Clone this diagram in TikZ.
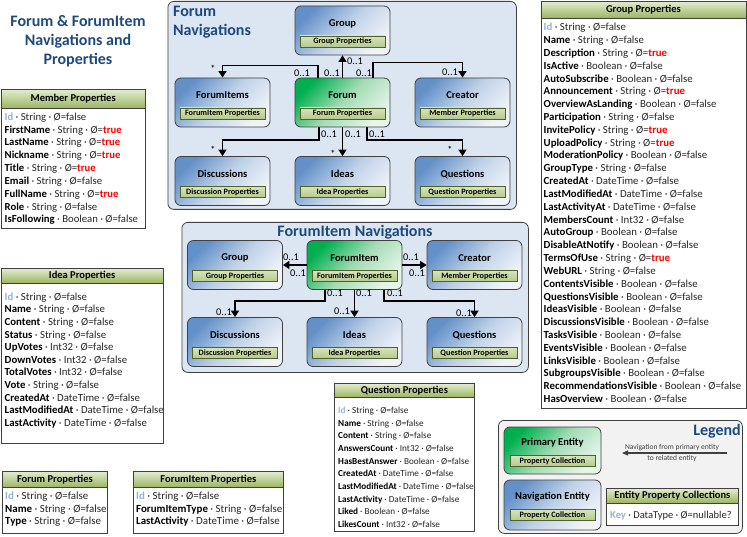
\documentclass[tikz,border=0pt]{standalone}
\usepackage{fontspec}
\setmainfont{Carlito}
\usetikzlibrary{arrows.meta}
\definecolor{ttl}{HTML}{1F497D}
\definecolor{idc}{HTML}{95B3D7}
\definecolor{cont}{HTML}{DCE6F2}
\definecolor{brd}{HTML}{404040}
\definecolor{hdt}{HTML}{E3EBD0}
\definecolor{hdb}{HTML}{9AB560}
\definecolor{sbt}{HTML}{D7E4BD}
\definecolor{sbb}{HTML}{B3C98A}
\definecolor{sbd}{HTML}{4F6228}
\definecolor{nvt}{HTML}{6390C8}
\definecolor{nvm}{HTML}{C0D2E8}
\definecolor{nvb}{HTML}{F0F4FA}
\definecolor{pmt}{HTML}{00B050}
\definecolor{pmm}{HTML}{A5DCB5}
\definecolor{pmb}{HTML}{E6F5EA}
\definecolor{txt}{HTML}{262626}
\definecolor{legbg}{HTML}{F2F2F2}
\definecolor{legtx}{HTML}{404040}
\newcommand\truev{\textcolor{red}{\textbf{true}}}
\newcommand\prw[3]{\textcolor{black}{\textbf{#1}} · #2 · Ø=#3}
\newcommand\idrow{\textcolor{idc}{\textbf{Id}} · String · Ø=false}
\tikzset{
  row/.style={anchor=base west, inner sep=0, font=\fontsize{10.6}{12}\selectfont, text=txt},
  hdr/.style={draw=brd, line width=0.8pt, top color=hdt, bottom color=hdb, anchor=north west, inner sep=0},
  body/.style={draw=brd, line width=0.8pt, fill=white, anchor=north west, inner sep=0},
  hdrtxt/.style={font=\bfseries\fontsize{10.5}{12}\selectfont, inner sep=0},
  container/.style={draw=brd, line width=0.8pt, fill=cont, rounded corners=6pt, anchor=north west, inner sep=0},
  navent/.style={draw=brd, line width=0.8pt, rounded corners=6pt, minimum width=95pt, minimum height=49pt, inner sep=0,
    top color=nvt, bottom color=nvb, middle color=nvm, shading angle=45},
  priment/.style={draw=brd, line width=0.8pt, rounded corners=6pt, minimum width=95pt, minimum height=49pt, inner sep=0,
    top color=pmt, bottom color=pmb, middle color=pmm, shading angle=45},
  entlbl/.style={font=\bfseries\fontsize{10.5}{12}\selectfont, inner sep=0},
  subbar/.style={draw=sbd, line width=0.6pt, top color=sbt, bottom color=sbb, minimum width=85pt, minimum height=11pt,
    inner sep=0, font=\bfseries\fontsize{8.2}{9}\selectfont},
  arr/.style={line width=1.8pt, -{Triangle[length=6.5pt,width=8pt]}},
  lbl/.style={anchor=base, inner sep=0, font=\fontsize{10.3}{12}\selectfont},
  bigtitle/.style={font=\bfseries\fontsize{16}{19}\selectfont, text=ttl, inner sep=0},
}
\newcommand\entity[6]{%
  \node[#2] (#1) at (#3,#4) {};
  \node[entlbl] (#1t) at ([yshift=7pt]#1.center) {#5};
  \node[subbar] (#1s) at ([yshift=-11pt]#1.center) {#6};}
% name, x1, ytop, width, hdrheight, bodyheight, title
\newcommand\propbox[7]{%
  \node[hdr, minimum width=#4pt, minimum height=#5pt] (#1h) at (#2,#3) {};
  \node[body, minimum width=#4pt, minimum height=#6pt] (#1b) at (#2,#3+#5) {};
  \node[hdrtxt] (#1ht) at (#1h.center) {#7};}
% name, x, baseline0, spacing, fontsize, list
\newcommand\proprows[6]{%
  \foreach \r [count=\i from 0] in {#6} {\node[row, font=\fontsize{#5}{12}\selectfont] (#1r\i) at (#2,#3+\i*#4) {\r};}}
\begin{document}
\begin{tikzpicture}[x=1pt,y=-1pt]
\useasboundingbox (0,0) rectangle (747,537);
% title
\node[bigtitle, align=center] (title) at (78,41) {Forum \& ForumItem\\Navigations and\\Properties};
% ---------- Forum navigations ----------
\node[container, minimum width=348.5pt, minimum height=208pt] (fnav) at (167.5,1) {};
\node[bigtitle, align=left, anchor=west] (fnavt) at (173,22) {Forum\\Navigations};
\entity{grp}{navent}{342.5}{30.5}{Group}{Group Properties}
\entity{fitems}{navent}{222.5}{102.5}{ForumItems}{ForumItem Properties}
\entity{forum}{priment}{342.5}{102.5}{Forum}{Forum Properties}
\entity{creator}{navent}{462.5}{102.5}{Creator}{Member Properties}
\entity{disc}{navent}{222.5}{181}{Discussions}{Discussion Properties}
\entity{ideas}{navent}{342.5}{181}{Ideas}{Idea Properties}
\entity{quest}{navent}{462.5}{181}{Questions}{Question Properties}
\draw[arr] ([xshift=-24.5pt]forum.north) -- ++(0,-12) -| (fitems.north);
\draw[arr] (forum.north) -- (grp.south);
\draw[arr] ([xshift=30.5pt]forum.north) -- ++(0,-15) -| (creator.north);
\draw[arr] ([xshift=-23.5pt]forum.south) -- ++(0,12.5) -| (disc.north);
\draw[arr] (forum.south) -- (ideas.north);
\draw[arr] ([xshift=24.5pt]forum.south) -- ++(0,12.5) -| (quest.north);
\node[lbl] (l1) at (302,76.5) {0..1};
\node[lbl] (l2) at (332,76.5) {0..1};
\node[lbl] (l3) at (364,76.5) {0..1};
\node[lbl] (l4) at (355,64.5) {0..1};
\node[lbl] (l5) at (450,75.5) {0..1};
\node[lbl] (l6) at (213,72.5) {*};
\node[lbl] (l7) at (329,137.5) {0..1};
\node[lbl] (l8) at (353,137.5) {0..1};
\node[lbl] (l9) at (377,137.5) {0..1};
\node[lbl] (l10) at (213,153.5) {*};
\node[lbl] (l11) at (333,157.5) {*};
\node[lbl] (l12) at (450,153.5) {*};
% ---------- ForumItem navigations ----------
\node[container, minimum width=346.5pt, minimum height=150pt] (inav) at (181.5,222) {};
\node[bigtitle] (inavt) at (355,232) {ForumItem Navigations};
\entity{fgrp}{navent}{235}{265}{Group}{Group Properties}
\entity{fi}{priment}{354.5}{265}{ForumItem}{ForumItem Properties}
\entity{fcr}{navent}{474.5}{265}{Creator}{Member Properties}
\entity{fdisc}{navent}{235}{342}{Discussions}{Discussion Properties}
\entity{fideas}{navent}{354.5}{342}{Ideas}{Idea Properties}
\entity{fquest}{navent}{474.5}{342}{Questions}{Question Properties}
\draw[arr] (fi.west) -- (fgrp.east);
\draw[arr] (fi.east) -- (fcr.west);
\draw[arr] ([xshift=-29.5pt]fi.south) -- ++(0,11.5) -| (fdisc.north);
\draw[arr] (fi.south) -- (fideas.north);
\draw[arr] ([xshift=29.5pt]fi.south) -- ++(0,11.5) -| (fquest.north);
\node[lbl] (m1) at (291,260.5) {0..1};
\node[lbl] (m2) at (298,276.5) {0..1};
\node[lbl] (m3) at (411,260.5) {0..1};
\node[lbl] (m4) at (417,276.5) {0..1};
\node[lbl] (m5) at (335,296.5) {0..1};
\node[lbl] (m6) at (364,296.5) {0..1};
\node[lbl] (m7) at (395,296.5) {0..1};
\node[lbl] (m8) at (224,315.5) {0..1};
\node[lbl] (m9) at (342,314.5) {0..1};
\node[lbl] (m10) at (464,316.5) {0..1};
% ---------- Property boxes ----------
\propbox{mem}{0.5}{89}{144.5}{19}{120}{Member Properties}
\proprows{mem}{4.5}{120.2}{12.83}{10.7}{{\idrow},{\prw{FirstName}{String}{\truev}},{\prw{LastName}{String}{\truev}},{\prw{Nickname}{String}{\truev}},{\prw{Title}{String}{\truev}},{\prw{Email}{String}{false}},{\prw{FullName}{String}{\truev}},{\prw{Role}{String}{false}},{\prw{IsFollowing}{Boolean}{false}}}
\propbox{idea}{0.5}{268}{162.5}{15}{160}{Idea Properties}
\proprows{idea}{4.5}{300.2}{12.6}{10.8}{{\idrow},{\prw{Name}{String}{false}},{\prw{Content}{String}{false}},{\prw{Status}{String}{false}},{\prw{UpVotes}{Int32}{false}},{\prw{DownVotes}{Int32}{false}},{\prw{TotalVotes}{Int32}{false}},{\prw{Vote}{String}{false}},{\prw{CreatedAt}{DateTime}{false}},{\prw{LastModifiedAt}{DateTime}{false}},{\prw{LastActivity}{DateTime}{false}}}
\propbox{gp}{540.5}{1}{205}{17}{390}{Group Properties}
\proprows{gp}{543.5}{30.8}{12.82}{10.8}{{\idrow},{\prw{Name}{String}{false}},{\prw{Description}{String}{\truev}},{\prw{IsActive}{Boolean}{false}},{\prw{AutoSubscribe}{Boolean}{false}},{\prw{Announcement}{String}{\truev}},{\prw{OverviewAsLanding}{Boolean}{false}},{\prw{Participation}{String}{false}},{\prw{InvitePolicy}{String}{\truev}},{\prw{UploadPolicy}{String}{\truev}},{\prw{ModerationPolicy}{Boolean}{false}},{\prw{GroupType}{String}{false}},{\prw{CreatedAt}{DateTime}{false}},{\prw{LastModifiedAt}{DateTime}{false}},{\prw{LastActivityAt}{DateTime}{false}},{\prw{MembersCount}{Int32}{false}},{\prw{AutoGroup}{Boolean}{false}},{\prw{DisableAtNotify}{Boolean}{false}},{\prw{TermsOfUse}{String}{\truev}},{\prw{WebURL}{String}{false}},{\prw{ContentsVisible}{Boolean}{false}},{\prw{QuestionsVisible}{Boolean}{false}},{\prw{IdeasVisible}{Boolean}{false}},{\prw{DiscussionsVisible}{Boolean}{false}},{\prw{TasksVisible}{Boolean}{false}},{\prw{EventsVisible}{Boolean}{false}},{\prw{LinksVisible}{Boolean}{false}},{\prw{SubgroupsVisible}{Boolean}{false}},{\prw{RecommendationsVisible}{Boolean}{false}},{\prw{HasOverview}{Boolean}{false}}}
\propbox{qp}{334}{383}{140}{14}{134}{Question Properties}
\proprows{qp}{338}{413.5}{12.67}{9.2}{{\idrow},{\prw{Name}{String}{false}},{\prw{Content}{String}{false}},{\prw{AnswersCount}{Int32}{false}},{\prw{HasBestAnswer}{Boolean}{false}},{\prw{CreatedAt}{DateTime}{false}},{\prw{LastModifiedAt}{DateTime}{false}},{\prw{LastActivity}{DateTime}{false}},{\prw{Liked}{Boolean}{false}},{\prw{LikesCount}{Int32}{false}}}
\propbox{fp}{2}{471}{105}{16}{46}{Forum Properties}
\proprows{fp}{5}{499.5}{12.65}{10.9}{{\idrow},{\prw{Name}{String}{false}},{\prw{Type}{String}{false}}}
\propbox{fip}{133}{471}{150}{16}{46}{ForumItem Properties}
\proprows{fip}{136}{499.5}{12.65}{10.9}{{\idrow},{\prw{ForumItemType}{String}{false}},{\prw{LastActivity}{DateTime}{false}}}
% ---------- Legend ----------
\node[draw=brd, line width=0.8pt, fill=legbg, rounded corners=6pt, anchor=north west, inner sep=0, minimum width=244pt, minimum height=113pt] (leg) at (498,420) {};
\node[bigtitle, anchor=east] (legt) at (741,431) {Legend};
\node[priment, minimum width=97pt, minimum height=47pt] (lprim) at (552.5,450.5) {};
\node[entlbl] (lprimt) at ([yshift=7.5pt]lprim.center) {Primary Entity};
\node[subbar] (lprims) at ([yshift=-10.5pt]lprim.center) {Property Collection};
\node[navent, minimum width=97pt, minimum height=50pt] (lnav) at (552.5,505) {};
\node[entlbl] (lnavt) at ([yshift=8pt]lnav.center) {Navigation Entity};
\node[subbar] (lnavs) at ([yshift=-10pt]lnav.center) {Property Collection};
\coordinate (la1) at (727,453);
\coordinate (la2) at (622,453);
\draw[draw=legtx, line width=1.2pt, -{Triangle[length=6pt,width=5pt]}] (la1) -- (la2);
\node[inner sep=0, font=\fontsize{7.5}{9}\selectfont, text=legtx] (lat1) at (672,448) {Navigation from primary entity};
\node[inner sep=0, font=\fontsize{7.5}{9}\selectfont, text=legtx] (lat2) at (672,458.5) {to related entity};
\propbox{epc}{606}{488}{132}{15}{22}{Entity Property Collections}
\node[row, font=\fontsize{10.5}{12}\selectfont] (epcr) at (610,518) {\textcolor{idc}{\textbf{Key}} · DataType · Ø=nullable?};
\end{tikzpicture}
\end{document}
